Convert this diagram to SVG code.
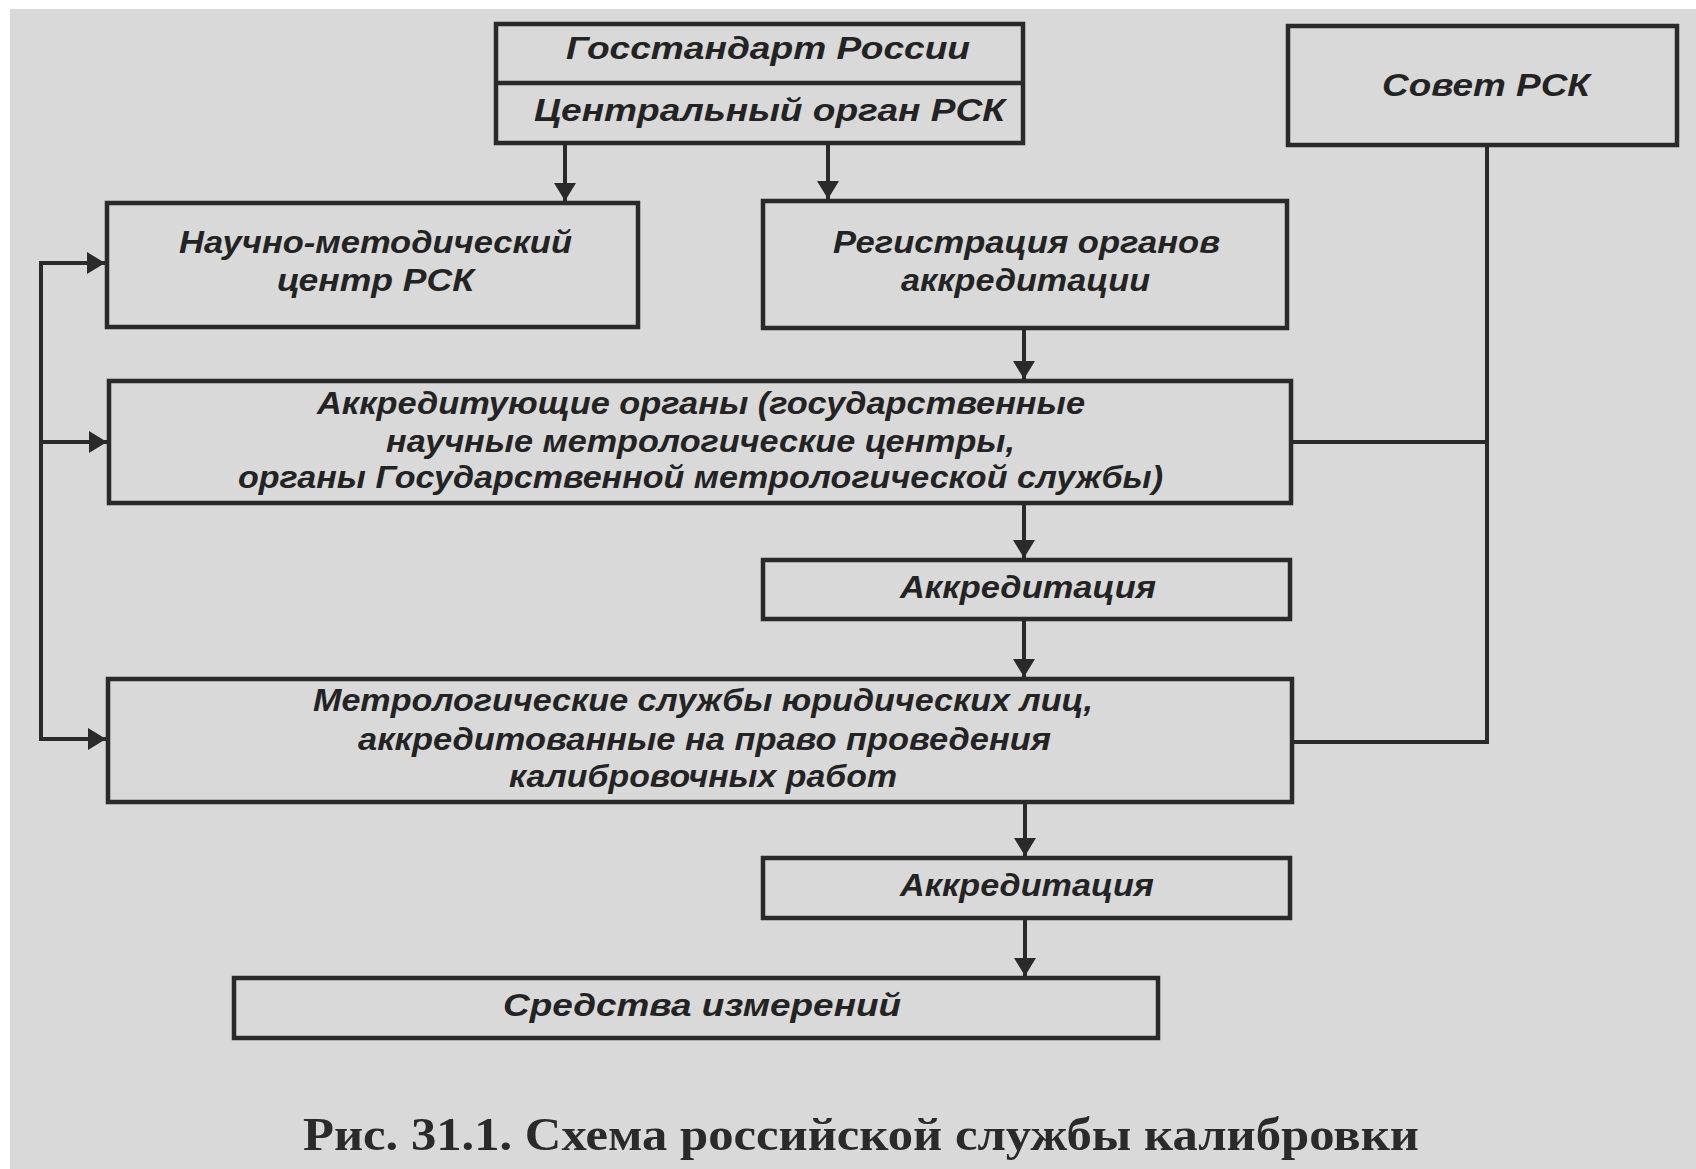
<svg xmlns="http://www.w3.org/2000/svg" width="1696" height="1169" viewBox="0 0 1696 1169">
<style>
.box{fill:none;stroke:#2a2a2a;stroke-width:4.5}
.ln{fill:none;stroke:#2a2a2a;stroke-width:4}
.t{font-family:"Liberation Sans",Arial,sans-serif;font-style:italic;font-weight:bold;font-size:31px;fill:#232323}
.cap{font-family:"Liberation Serif","Times New Roman",serif;font-weight:bold;font-size:46px;fill:#2a2a2a}
</style>
<defs>
<marker id="ah" viewBox="0 0 18 22" refX="18" refY="11" markerWidth="18" markerHeight="22" markerUnits="userSpaceOnUse" orient="auto">
<path d="M0,0 L18,11 L0,22 Z" fill="#2a2a2a"/>
</marker>
</defs>
<rect x="0" y="0" width="1696" height="1169" fill="#ffffff"/>
<rect x="10" y="9" width="1686" height="1160" fill="#d9d9d9"/>

<g id="connectors">
<line class="ln" x1="565" y1="143" x2="565" y2="201" marker-end="url(#ah)"/>
<line class="ln" x1="828" y1="143" x2="828" y2="199" marker-end="url(#ah)"/>
<line class="ln" x1="1024" y1="328" x2="1024" y2="379" marker-end="url(#ah)"/>
<line class="ln" x1="1024" y1="503" x2="1024" y2="558" marker-end="url(#ah)"/>
<line class="ln" x1="1024" y1="619" x2="1024" y2="677" marker-end="url(#ah)"/>
<line class="ln" x1="1025" y1="802" x2="1025" y2="856" marker-end="url(#ah)"/>
<line class="ln" x1="1025" y1="918" x2="1025" y2="976" marker-end="url(#ah)"/>
<line class="ln" x1="41" y1="261" x2="41" y2="741"/>
<line class="ln" x1="39" y1="263" x2="105" y2="263" marker-end="url(#ah)"/>
<line class="ln" x1="41" y1="442" x2="107" y2="442" marker-end="url(#ah)"/>
<line class="ln" x1="39" y1="739" x2="106" y2="739" marker-end="url(#ah)"/>
<polyline class="ln" points="1487,145 1487,742 1292,742"/>
<line class="ln" x1="1291" y1="442" x2="1487" y2="442"/>
</g>

<g id="gosstandart">
<rect class="box" x="496" y="24" width="527" height="119"/>
<line class="box" x1="496" y1="83" x2="1023" y2="83"/>
<text class="t" x="566" y="59" textLength="404" lengthAdjust="spacingAndGlyphs">Госстандарт России</text>
<text class="t" x="534" y="121" textLength="471" lengthAdjust="spacingAndGlyphs">Центральный орган РСК</text>
</g>

<g id="sovet">
<rect class="box" x="1288" y="26" width="389" height="119"/>
<text class="t" x="1382" y="96" textLength="208" lengthAdjust="spacingAndGlyphs">Совет РСК</text>
</g>

<g id="nauchno">
<rect class="box" x="107" y="203" width="531" height="124"/>
<text class="t" x="179" y="253" textLength="393" lengthAdjust="spacingAndGlyphs">Научно-методический</text>
<text class="t" x="277" y="291" textLength="197" lengthAdjust="spacingAndGlyphs">центр РСК</text>
</g>

<g id="registraciya">
<rect class="box" x="763" y="201" width="524" height="127"/>
<text class="t" x="833" y="253" textLength="387" lengthAdjust="spacingAndGlyphs">Регистрация органов</text>
<text class="t" x="901" y="291" textLength="249" lengthAdjust="spacingAndGlyphs">аккредитации</text>
</g>

<g id="akkredituyushchie">
<rect class="box" x="109" y="381" width="1182" height="122"/>
<text class="t" x="317" y="414" textLength="768" lengthAdjust="spacingAndGlyphs">Аккредитующие органы (государственные</text>
<text class="t" x="386" y="452" textLength="629" lengthAdjust="spacingAndGlyphs">научные метрологические центры,</text>
<text class="t" x="238" y="488" textLength="925" lengthAdjust="spacingAndGlyphs">органы Государственной метрологической службы)</text>
</g>

<g id="akkreditaciya1">
<rect class="box" x="763" y="560" width="527" height="59"/>
<text class="t" x="900" y="598" textLength="256" lengthAdjust="spacingAndGlyphs">Аккредитация</text>
</g>

<g id="metrologicheskie">
<rect class="box" x="108" y="679" width="1184" height="123"/>
<text class="t" x="313" y="711" textLength="780" lengthAdjust="spacingAndGlyphs">Метрологические службы юридических лиц,</text>
<text class="t" x="358" y="750" textLength="693" lengthAdjust="spacingAndGlyphs">аккредитованные на право проведения</text>
<text class="t" x="509" y="787" textLength="388" lengthAdjust="spacingAndGlyphs">калибровочных работ</text>
</g>

<g id="akkreditaciya2">
<rect class="box" x="763" y="858" width="527" height="60"/>
<text class="t" x="900" y="896" textLength="254" lengthAdjust="spacingAndGlyphs">Аккредитация</text>
</g>

<g id="sredstva">
<rect class="box" x="234" y="978" width="924" height="60"/>
<text class="t" x="503" y="1016" textLength="398" lengthAdjust="spacingAndGlyphs">Средства измерений</text>
</g>

<text class="cap" x="303" y="1150" textLength="1116" lengthAdjust="spacingAndGlyphs">Рис. 31.1. Схема российской службы калибровки</text>
</svg>
